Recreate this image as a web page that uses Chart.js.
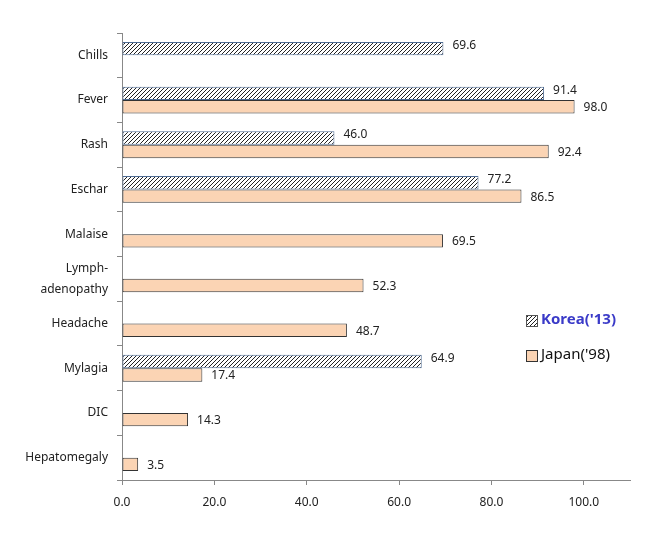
<!DOCTYPE html>
<html lang="en">
<head>
    <meta charset="UTF-8">
    <title>Symptoms Korea vs Japan</title>
    <style>
        body { margin: 0; background: #fff; }
        .chart-container { width: 658px; height: 539px; position: relative; }
    </style>
</head>
<body>
    <div class="chart-container">
        <canvas id="symChart"></canvas>
    </div>

    <script src="https://cdn.jsdelivr.net/npm/chart.js"></script>
    <script>
        const categories = ['Chills', 'Fever', 'Rash', 'Eschar', 'Malaise', ['Lymph-', 'adenopathy'],
            'Headache', 'Mylagia', 'DIC', 'Hepatomegaly'];
        const korea = [69.6, 91.4, 46.0, 77.2, null, null, null, 64.9, null, null];
        const japan = [null, 98.0, 92.4, 86.5, 69.5, 52.3, 48.7, 17.4, 14.3, 3.5];
        const xTicks = [0, 20, 40, 60, 80, 100];
        const seriesNames = ["Korea('13)", "Japan('98)"];

        const FONT = "'Noto Sans', sans-serif";
        const ctx = document.getElementById('symChart').getContext('2d');

        // diagonal hatch for the Korea bars
        function makeHatch() {
            const c = document.createElement('canvas');
            c.width = 4; c.height = 4;
            const g = c.getContext('2d');
            g.fillStyle = '#fff';
            g.fillRect(0, 0, 4, 4);
            g.strokeStyle = '#222';
            g.lineWidth = 1;
            g.beginPath();
            g.moveTo(0, 4); g.lineTo(4, 0);
            g.moveTo(-1, 1); g.lineTo(1, -1);
            g.moveTo(3, 5); g.lineTo(5, 3);
            g.stroke();
            return ctx.createPattern(c, 'repeat');
        }
        const hatch = makeHatch();
        const peach = '#fbd4b4';

        // value labels at bar ends
        const valueLabels = {
            id: 'valueLabels',
            afterDatasetsDraw(chart) {
                const c = chart.ctx;
                c.save();
                c.font = '12px ' + FONT;
                c.fillStyle = '#222';
                c.textBaseline = 'middle';
                chart.data.datasets.forEach((ds, i) => {
                    const meta = chart.getDatasetMeta(i);
                    meta.data.forEach((bar, j) => {
                        const v = ds.data[j];
                        if (v === null) return;
                        const dy = i === 0 ? -3 : 1;
                        c.fillText(v.toFixed(1), bar.x + 9, bar.y + dy);
                    });
                });
                c.restore();
            }
        };

        // legend drawn inside plot area
        const sideLegend = {
            id: 'sideLegend',
            afterDraw(chart) {
                const c = chart.ctx;
                const x = 526, ys = [320, 355];
                c.save();
                c.textBaseline = 'middle';
                ys.forEach((y, i) => {
                    c.fillStyle = i === 0 ? hatch : peach;
                    c.fillRect(x, y - 5, 11, 11);
                    c.strokeStyle = i === 0 ? '#555' : '#333';
                    c.lineWidth = 1;
                    c.strokeRect(x + 0.5, y - 4.5, 11, 11);
                    c.font = (i === 0 ? 'bold ' : '') + '15px ' + FONT;
                    c.fillStyle = i === 0 ? '#3a3ac8' : '#111';
                    c.fillText(seriesNames[i], x + 15, y);
                });
                c.restore();
            }
        };

        const data = {
            labels: categories,
            datasets: [{
                label: seriesNames[0],
                data: korea,
                backgroundColor: hatch,
                borderColor: '#4e6b93',
                borderWidth: 1,
                borderSkipped: false,
                categoryPercentage: 0.6,
                barPercentage: 1.0
            }, {
                label: seriesNames[1],
                data: japan,
                backgroundColor: peach,
                borderColor: '#333',
                borderWidth: 1,
                borderSkipped: false,
                categoryPercentage: 0.6,
                barPercentage: 1.0
            }]
        };

        const config = {
            type: 'bar',
            data: data,
            options: {
                indexAxis: 'y',
                animation: false,
                responsive: true,
                maintainAspectRatio: false,
                layout: { padding: { top: 33, right: 28, bottom: 0, left: 0 } },
                plugins: {
                    legend: { display: false },
                    tooltip: { enabled: false }
                },
                scales: {
                    x: {
                        min: 0,
                        max: 110,
                        afterBuildTicks: (scale) => {
                            scale.ticks = xTicks.map(v => ({ value: v }));
                        },
                        afterFit: (scale) => { scale.height = 59; },
                        grid: { drawOnChartArea: false, tickLength: 5, color: '#888' },
                        border: { color: '#888' },
                        ticks: {
                            callback: (v) => Number(v).toFixed(1),
                            color: '#222',
                            font: { family: FONT, size: 12 },
                            padding: 10,
                            maxRotation: 0
                        }
                    },
                    y: {
                        afterFit: (scale) => { scale.width = 122; },
                        grid: { drawOnChartArea: false, tickLength: 5, color: '#888', offset: true },
                        border: { color: '#888' },
                        ticks: {
                            autoSkip: false,
                            color: '#222',
                            font: { family: FONT, size: 12, lineHeight: 1.75 },
                            padding: 9
                        }
                    }
                }
            },
            plugins: [valueLabels, sideLegend]
        };

        new Chart(ctx, config);
    </script>
</body>
</html>
